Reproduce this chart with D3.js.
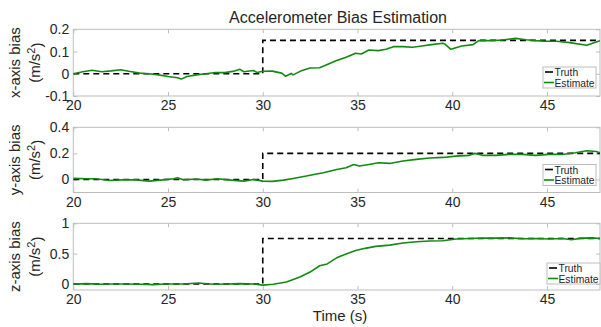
<!DOCTYPE html>
<html>
<head>
<meta charset="utf-8">
<script src="https://cdn.jsdelivr.net/npm/d3@7"></script>
<style>
  body { margin: 0; background: #fff; }
  text { font-family: "Liberation Sans", Arial, sans-serif; fill: #262626; }
</style>
</head>
<body>
<svg id="chart" width="601" height="327"></svg>
<script>
// values
const timeRange = [20, 47.8];
const stepTime = 30;
const truthLevels = [0.15, 0.2, 0.75];
const axisNames = ["x-axis bias", "y-axis bias", "z-axis bias"];
const xTicks = [20, 25, 30, 35, 40, 45];
const yTicksX = [-0.1, 0, 0.1, 0.2];
const yTicksY = [0, 0.2, 0.4];
const yTicksZ = [0, 0.5, 1];
const yDomains = [[-0.1, 0.2], [-0.1, 0.4], [-0.1, 1]];

// estimate, [time, bias]
const estX = [[20,0],[20.5,0.009],[21,0.016],[21.5,0.009],[22,0.013],[22.5,0.018],[23,0.01],[23.5,0.003],
  [24,0],[24.5,-0.005],[25,-0.012],[25.5,-0.018],[25.7,-0.024],[26,-0.012],[26.5,-0.005],[27,0],
  [27.5,0.006],[28,0.005],[28.5,0.012],[28.8,0.02],[29,0.009],[29.5,0.015],[29.7,0.006],[30,0.011],
  [30.5,0.012],[31,0.003],[31.2,-0.011],[31.5,0.0015],[31.6,-0.005],[32,0.012],[32.5,0.026],[33,0.027],
  [33.5,0.045],[33.9,0.06],[34.4,0.074],[34.9,0.092],[35.2,0.089],[35.6,0.107],[36.1,0.104],[36.5,0.11],
  [36.9,0.122],[37.4,0.122],[37.9,0.119],[38.4,0.125],[38.9,0.131],[39.5,0.137],[39.6,0.134],[39.93,0.11],
  [40.5,0.125],[41.1,0.131],[41.4,0.149],[41.95,0.149],[42.65,0.152],[43.35,0.159],[43.9,0.153],[44.4,0.149],
  [44.95,0.146],[45.5,0.146],[46.2,0.14],[47.1,0.128],[47.6,0.143],[47.8,0.149]];
const estY = [[20,0.008],[20.7,0.005],[21.2,0.005],[21.9,-0.008],[22.6,-0.003],[23.3,-0.003],[24,-0.013],
  [24.6,-0.005],[25.3,0.005],[25.5,0.013],[25.8,-0.003],[26.5,0.003],[27,-0.005],[27.6,0.005],[28.3,-0.005],
  [29,-0.013],[29.5,0],[30,-0.013],[30.5,-0.015],[31.1,-0.005],[31.6,0.008],[32.3,0.026],[32.7,0.038],
  [33.2,0.051],[33.9,0.077],[34.4,0.09],[34.8,0.115],[35.1,0.103],[35.6,0.115],[36.1,0.128],[36.7,0.123],
  [37.4,0.141],[38.1,0.154],[38.8,0.164],[39.5,0.169],[40.2,0.179],[40.9,0.185],[41.2,0.2],[41.6,0.185],
  [42.3,0.185],[43,0.192],[43.7,0.192],[44.4,0.185],[45.1,0.192],[45.8,0.192],[46.5,0.205],[47.1,0.22],
  [47.6,0.215],[47.8,0.205]];
const estZ = [[20,0],[20.7,0.005],[21.4,-0.005],[22.1,0],[22.8,0],[23.5,-0.005],[24.2,-0.011],[24.9,0],
  [25.8,0],[26.6,0.016],[27.4,-0.005],[28.1,0],[28.8,0.005],[29.5,0],[30,-0.02],[30.55,-0.005],
  [31.25,0.033],[31.96,0.114],[32.5,0.196],[33,0.3],[33.4,0.33],[33.9,0.43],[34.4,0.495],[34.9,0.55],
  [35.4,0.587],[35.96,0.62],[36.7,0.64],[37.4,0.674],[38.1,0.696],[38.8,0.707],[39.5,0.712],[40.2,0.74],
  [40.9,0.75],[41.6,0.755],[42.3,0.755],[43,0.76],[43.7,0.745],[44.4,0.75],[45.1,0.74],[45.8,0.75],
  [46.3,0.73],[46.8,0.755],[47.4,0.76],[47.8,0.75]];

const estimates = [estX, estY, estZ];
const yTicks = [yTicksX, yTicksY, yTicksZ];

// layout
const left = 73.3, right = 600;
const panels = [
  { top: 29.3, bottom: 96, legend: [543, 67] },
  { top: 127.3, bottom: 192.5, legend: [543, 164.5] },
  { top: 223.3, bottom: 290, legend: [547, 263] }
];
const boxColor = "#bdbdbd";
const green = "#128a12";

const svg = d3.select("#chart");
const x = d3.scaleLinear().domain(timeRange).range([left, right]);

svg.append("text")
  .attr("x", 338).attr("y", 22.5)
  .attr("text-anchor", "middle")
  .style("font-size", "16px")
  .text("Accelerometer Bias Estimation");

panels.forEach((p, i) => {
  const y = d3.scaleLinear().domain(yDomains[i]).range([p.bottom, p.top]);
  const g = svg.append("g");

  g.append("clipPath").attr("id", "clip" + i)
    .append("rect")
    .attr("x", left).attr("y", p.top)
    .attr("width", right - left).attr("height", p.bottom - p.top);

  // ticks on all four sides, pointing inward
  const fmt = d => String(d);
  const bottomAxis = g.append("g")
    .attr("transform", "translate(0," + p.bottom + ")")
    .call(d3.axisBottom(x).tickValues(xTicks).tickSizeInner(-4).tickSizeOuter(0).tickPadding(4.5).tickFormat(fmt));
  const topAxis = g.append("g")
    .attr("transform", "translate(0," + p.top + ")")
    .call(d3.axisTop(x).tickValues(xTicks).tickSizeInner(-4).tickSizeOuter(0).tickFormat(""));
  const leftAxis = g.append("g")
    .attr("transform", "translate(" + left + ",0)")
    .call(d3.axisLeft(y).tickValues(yTicks[i]).tickSizeInner(-4).tickSizeOuter(0).tickPadding(4).tickFormat(fmt));
  const rightAxis = g.append("g")
    .attr("transform", "translate(" + right + ",0)")
    .call(d3.axisRight(y).tickValues(yTicks[i]).tickSizeInner(-4).tickSizeOuter(0).tickFormat(""));

  [bottomAxis, topAxis, leftAxis, rightAxis].forEach(a => {
    a.select(".domain").remove();
    a.selectAll(".tick line").attr("stroke", boxColor);
    a.selectAll("text").style("font-size", "14px").attr("fill", "#262626");
  });

  g.append("rect")
    .attr("x", left).attr("y", p.top)
    .attr("width", right - left).attr("height", p.bottom - p.top)
    .attr("fill", "none").attr("stroke", boxColor).attr("stroke-width", 1);

  const line = d3.line().x(d => x(d[0])).y(d => y(d[1]));
  const truth = [[timeRange[0], 0], [stepTime, 0], [stepTime, truthLevels[i]], [timeRange[1], truthLevels[i]]];

  const plot = g.append("g").attr("clip-path", "url(#clip" + i + ")");
  plot.append("path")
    .attr("d", line(truth))
    .attr("fill", "none").attr("stroke", "#000")
    .attr("stroke-width", 1.6).attr("stroke-dasharray", "6,4");
  plot.append("path")
    .attr("d", line(estimates[i]))
    .attr("fill", "none").attr("stroke", green)
    .attr("stroke-width", 1.6).attr("stroke-linejoin", "round");

  // y labels
  const cy = (p.top + p.bottom) / 2;
  g.append("text")
    .attr("transform", "translate(20," + cy + ") rotate(-90)")
    .attr("text-anchor", "middle").style("font-size", "15px")
    .text(axisNames[i]);
  const unit = g.append("text")
    .attr("transform", "translate(40," + cy + ") rotate(-90)")
    .attr("text-anchor", "middle").style("font-size", "15px");
  unit.append("tspan").text("(m/s");
  unit.append("tspan").attr("dy", "-0.45em").style("font-size", "11px").text("2");
  unit.append("tspan").attr("dy", "0.45em").text(")");

  // legend
  const [lx, ly] = p.legend;
  const lg = g.append("g").attr("transform", "translate(" + lx + "," + ly + ")");
  lg.append("rect").attr("width", 53).attr("height", 21)
    .attr("fill", "#fff").attr("stroke", boxColor);
  lg.append("line").attr("x1", 2).attr("x2", 10).attr("y1", 5).attr("y2", 5)
    .attr("stroke", "#000").attr("stroke-width", 1.6);
  lg.append("text").attr("x", 11.5).attr("y", 9).style("font-size", "10.3px").text("Truth");
  lg.append("line").attr("x1", 1).attr("x2", 11).attr("y1", 15.5).attr("y2", 15.5)
    .attr("stroke", green).attr("stroke-width", 1.6);
  lg.append("text").attr("x", 11.5).attr("y", 19.5).style("font-size", "10.3px").text("Estimate");
});

svg.append("text")
  .attr("x", 340).attr("y", 321)
  .attr("text-anchor", "middle")
  .style("font-size", "15px")
  .text("Time (s)");
</script>
</body>
</html>
